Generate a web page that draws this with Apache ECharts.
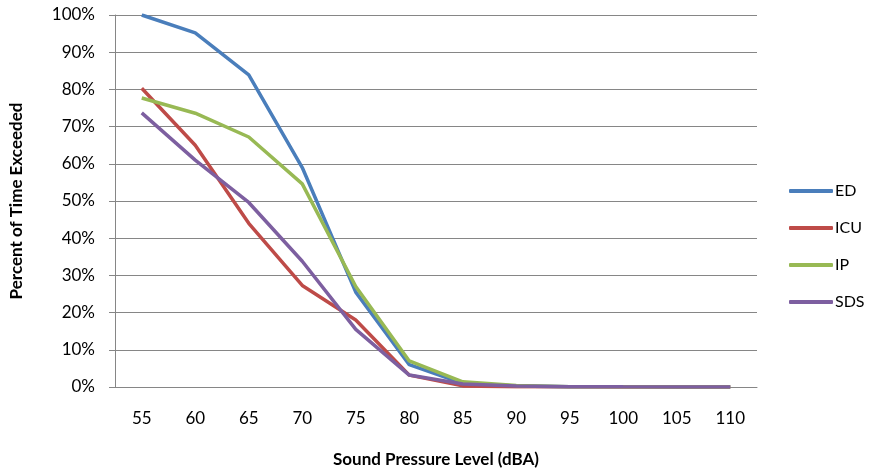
<!DOCTYPE html>
<html>
<head>
<meta charset="utf-8">
<script src="https://cdn.jsdelivr.net/npm/echarts@6/dist/echarts.min.js"></script>
<style>
html,body{margin:0;padding:0;background:#fff;}
#chart{width:869px;height:473px;}
</style>
</head>
<body>
<div id="chart"></div>
<script>
// Sound pressure level bins (dBA)
const levels = ['55','60','65','70','75','80','85','90','95','100','105','110'];
// Percent of time each level was exceeded, per unit
const ed  = [100, 95.2, 83.9, 59.0, 25.5, 6.0, 1.0, 0.3, 0.1, 0.05, 0.02, 0.01];
const icu = [80.3, 65.0, 44.0, 27.3, 18.0, 3.2, 0.3, 0.1, 0.05, 0.02, 0.01, 0.0];
const ip  = [77.7, 73.6, 67.2, 54.6, 27.0, 7.0, 1.4, 0.4, 0.1, 0.05, 0.02, 0.01];
const sds = [73.7, 61.0, 49.6, 33.8, 15.5, 3.2, 0.8, 0.3, 0.1, 0.05, 0.02, 0.01];

const font = 'Lato, Open Sans, sans-serif';
const chart = echarts.init(document.getElementById('chart'));

function line(name, data, color) {
  return {
    name: name,
    type: 'line',
    data: data,
    symbol: 'none',
    smooth: false,
    lineStyle: { color: color, width: 3.5 },
    itemStyle: { color: color }
  };
}

chart.setOption({
  animation: false,
  backgroundColor: '#fff',
  grid: { left: 113, right: 112, top: 15, bottom: 85 },
  legend: {
    orient: 'vertical',
    left: 784,
    top: 176,
    icon: 'roundRect',
    itemWidth: 44,
    itemHeight: 4,
    itemGap: 17,
    textStyle: { fontFamily: font, fontSize: 16, color: '#000', padding: [0, 0, 0, -3], lineHeight: 20 },
    data: ['ED', 'ICU', 'IP', 'SDS']
  },
  xAxis: {
    type: 'category',
    data: levels,
    boundaryGap: true,
    name: 'Sound Pressure Level (dBA)',
    nameLocation: 'middle',
    nameGap: 64,
    nameTextStyle: { fontFamily: font, fontSize: 17, fontWeight: 'bold', color: '#000' },
    axisLine: { lineStyle: { color: '#868686', width: 1 } },
    axisTick: { show: false },
    axisLabel: { fontFamily: font, fontSize: 17, color: '#000', margin: 23 },
    splitLine: { show: false }
  },
  yAxis: {
    type: 'value',
    min: 0,
    max: 100,
    interval: 10,
    name: 'Percent of Time Exceeded',
    nameLocation: 'middle',
    nameGap: 90,
    nameTextStyle: { fontFamily: font, fontSize: 17, fontWeight: 'bold', color: '#000' },
    axisLine: { show: true, lineStyle: { color: '#868686', width: 1 } },
    axisTick: { show: true, length: 6, lineStyle: { color: '#868686' } },
    axisLabel: { fontFamily: font, fontSize: 17, color: '#000', margin: 20, formatter: '{value}%' },
    splitLine: { lineStyle: { color: '#868686', width: 1 } }
  },
  series: [
    line('ED', ed, '#4A7EBB'),
    line('ICU', icu, '#BE4B48'),
    line('IP', ip, '#98B954'),
    line('SDS', sds, '#7D5FA0')
  ]
});
</script>
</body>
</html>
